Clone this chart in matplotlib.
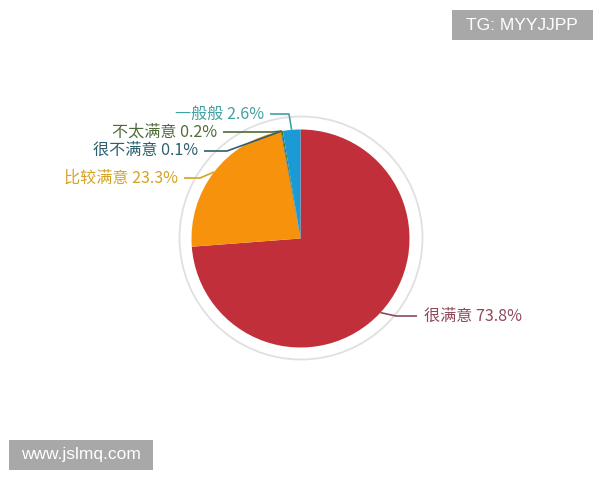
import numpy as np
import matplotlib
matplotlib.use("Agg")
import matplotlib.pyplot as plt
from matplotlib.patches import Circle, Rectangle

plt.rcParams['font.family'] = ['Noto Sans CJK SC', 'DejaVu Sans']

# data (clockwise from 12 o'clock)
labels = ["很满意", "比较满意", "很不满意", "不太满意", "一般般"]
shares = [73.8, 23.3, 0.1, 0.2, 2.6]
wedge_colors = ["#c1303a", "#f7920c", "#1f4f9a", "#3a7a2a", "#1c9ad6"]
text_colors = ["#8c4a5a", "#d6a324", "#2d5f6e", "#4f6b3a", "#3fa3a3"]

# label layout in pixel coords (y from top): text anchor x, y, elbow x
label_pos = {
    "很满意": (424, 316, 396, "left"),
    "比较满意": (178, 178, 200, "right"),
    "很不满意": (198, 151, 227, "right"),
    "不太满意": (217, 132, 272, "right"),
    "一般般": (264, 114, 289, "right"),
}

W, H = 600, 480
fig = plt.figure(figsize=(6, 4.8), dpi=100)
ax = fig.add_axes([0, 0, 1, 1])

cx, cy, r = 300.5, H - 238.5, 109

# light outer ring
ax.add_patch(Circle((cx + 0.5, cy + 0.5), 121.5, fill=False, edgecolor="#e0e0e0", lw=1.3))

wedges, _ = ax.pie(shares, colors=wedge_colors, startangle=90, counterclock=False,
                   center=(cx, cy), radius=r, wedgeprops=dict(linewidth=0))

for w, lab, val, tc in zip(wedges, labels, shares, text_colors):
    mid = np.deg2rad((w.theta1 + w.theta2) / 2)
    ex, ey = cx + r * np.cos(mid), cy + r * np.sin(mid)
    tx, ty, elx, ha = label_pos[lab]
    ty = H - ty
    if ha == "left":
        lx = tx - 7
    else:
        lx = tx + 6
    ax.plot([ex, elx, lx], [ey, ty, ty], color=tc, lw=1.2, solid_capstyle="butt")
    ax.text(tx, ty, f"{lab} {val}%", color=tc, fontsize=11.6, ha=ha, va="center")

ax.set_xlim(0, W)
ax.set_ylim(0, H)
ax.set_aspect("equal")
ax.axis("off")

# watermark boxes
fig.patches.append(Rectangle((452 / W, 1 - 40 / H), 141 / W, 30 / H, transform=fig.transFigure,
                             facecolor="#a8a8a8", edgecolor="none"))
fig.text(522 / W, 1 - 25.5 / H, "TG: MYYJJPP", color="white", fontsize=12.5,
         family="Liberation Sans", ha="center", va="center")
fig.patches.append(Rectangle((9 / W, 1 - 470 / H), 144 / W, 30 / H, transform=fig.transFigure,
                             facecolor="#a8a8a8", edgecolor="none"))
fig.text(81 / W, 1 - 455 / H, "www.jslmq.com", color="white", fontsize=12.5,
         family="Liberation Sans", ha="center", va="center")

fig.savefig("out.png", dpi=100)
